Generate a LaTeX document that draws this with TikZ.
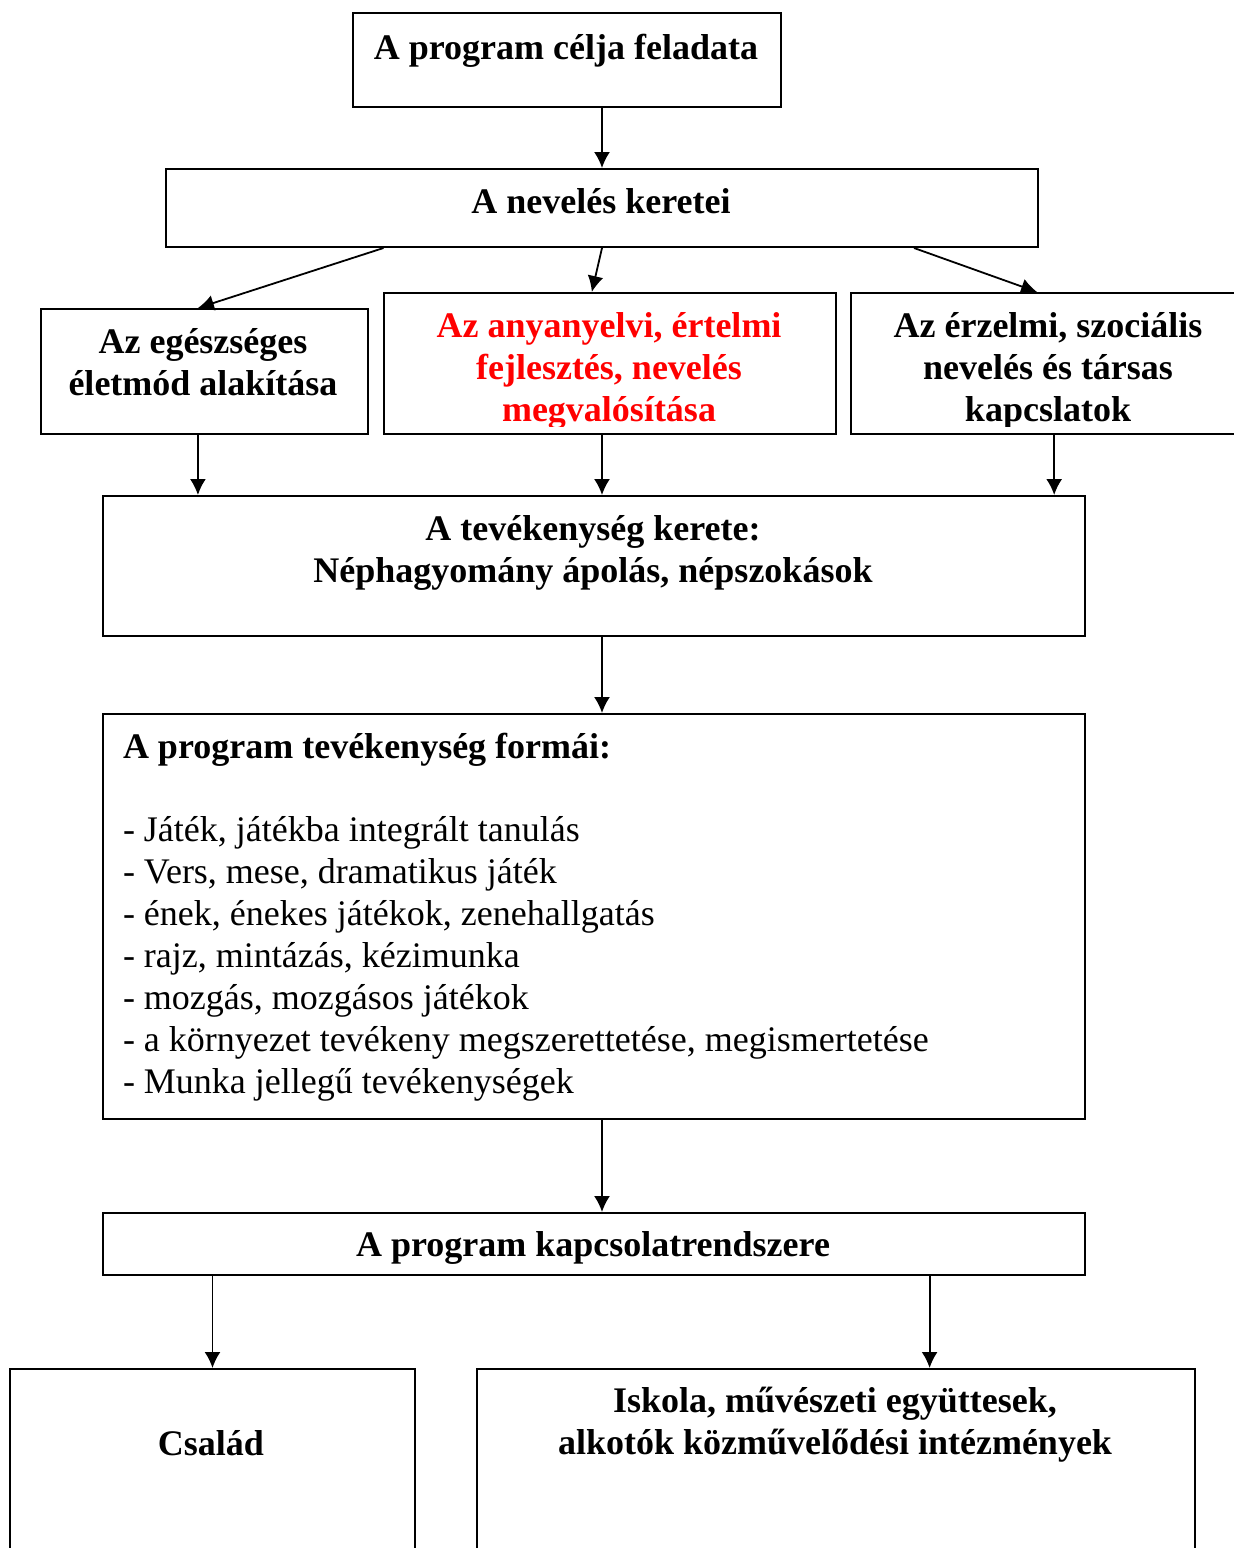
\documentclass[tikz,border=0pt]{standalone}
\usepackage{fontspec}
\setmainfont{Liberation Serif}
\usetikzlibrary{arrows.meta,calc}

\begin{document}
\begin{tikzpicture}[x=0.5pt,y=-0.5pt,line width=1pt,
	frame/.style={draw,rectangle,anchor=north west,inner sep=0pt},
	title/.style={font=\fontsize{18}{21}\selectfont\bfseries,align=center,inner sep=0pt},
	arr/.style={line width=0.9pt,-{Latex[length=8pt,width=8pt]}}]
	\useasboundingbox (0,0) rectangle (1234,1548);
	% frames
	\node (cel) at (352,12) [frame,minimum width=214pt,minimum height=47pt] {};
	\node (ker) at (165,168) [frame,minimum width=436pt,minimum height=39pt] {};
	\node (egk) at (40,308) [frame,minimum width=163.5pt,minimum height=62.5pt] {};
	\node (any) at (383,292) [frame,minimum width=226pt,minimum height=70.5pt] {};
	\node (erz) at (850,292) [frame,minimum width=198pt,minimum height=70.5pt] {};
	\node (tev) at (102,495) [frame,minimum width=491pt,minimum height=70pt] {};
	\node (form) at (102,713) [frame,minimum width=491pt,minimum height=202.5pt] {};
	\node (kap) at (102,1212) [frame,minimum width=491pt,minimum height=31pt] {};
	\node (csa) at (9,1368) [frame,minimum width=202.5pt,minimum height=101pt] {};
	\node (isk) at (476,1368) [frame,minimum width=359pt,minimum height=101pt] {};
	% texts
	\node (celt) at (566,51) [title] {A program célja feladata};
	\node (kert) at (601,201) [title] {A nevelés keretei};
	\node (egkt) at (203,362) [title] {Az egészséges\\életmód alakítása};
	\begin{scope}
		\clip ([yshift=4.5pt]any.south west) rectangle (any.north east);
		\node (anyt) at (609,371) [title,text=red] {Az anyanyelvi, értelmi\\fejlesztés, nevelés\\megvalósítása};
	\end{scope}
	\begin{scope}
		\clip ([yshift=4.5pt]erz.south west) rectangle (erz.north east);
		\node (erzt) at (1048,371) [title] {Az érzelmi, szociális\\nevelés és társas\\kapcslatok};
	\end{scope}
	\node (tevt) at (593,553) [title] {A tevékenység kerete:\\Néphagyomány ápolás, népszokások};
	\node (formt) at (122,732) [anchor=north west,inner sep=0pt,align=left,font=\fontsize{18}{21}\selectfont] {\textbf{A program tevékenység formái:}\\[20.5pt]
		- Játék, játékba integrált tanulás\\
		- Vers, mese, dramatikus játék\\
		- ének, énekes játékok, zenehallgatás\\
		- rajz, mintázás, kézimunka\\
		- mozgás, mozgásos játékok\\
		- a környezet tevékeny megszerettetése, megismertetése\\
		- Munka jellegű tevékenységek};
	\node (kapt) at (593,1248) [title] {A program kapcsolatrendszere};
	\node (csat) at (211,1443) [title] {Család};
	\node (iskt) at (835,1425) [title] {Iskola, művészeti együttesek,\\alkotók közművelődési intézmények};
	% arrows
	\coordinate (iskbe) at ($(isk.north west)!0.63!(isk.north east)$);
	\coordinate (egkki) at ($(egk.south west)!0.48!(egk.south east)$);
	\coordinate (erzki) at ($(erz.south west)!0.513!(erz.south east)$);
	\draw [arr] (cel.south -| ker.north) -- (ker.north);
	\draw [arr] ($(ker.south west)!0.25!(ker.south east)$) -- ($(egk.north west)!0.48!(egk.north east)$);
	\draw [arr] (ker.south) -- ($(any.north west)!0.46!(any.north east)$);
	\draw [arr] ($(ker.south west)!0.857!(ker.south east)$) -- ($(erz.north west)!0.47!(erz.north east)$);
	\draw [arr] (egkki) -- (egkki |- tev.north);
	\draw [arr] (any.south -| ker.south) -- (tev.north -| ker.south);
	\draw [arr] (erzki) -- (erzki |- tev.north);
	\draw [arr] (tev.south -| ker.south) -- (form.north -| ker.south);
	\draw [arr] (form.south -| ker.south) -- (kap.north -| ker.south);
	\draw [arr] (kap.south -| csa.north) -- (csa.north);
	\draw [arr] (kap.south -| iskbe) -- (iskbe);
\end{tikzpicture}
\end{document}
